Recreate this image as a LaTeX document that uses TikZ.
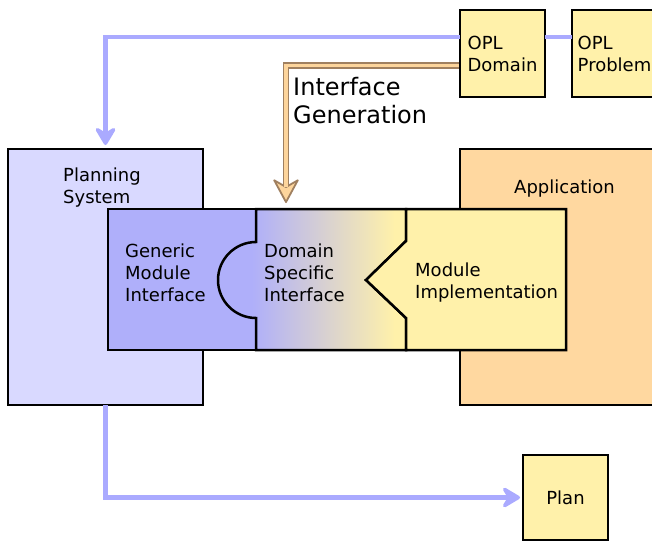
\documentclass[tikz,border=0pt]{standalone}
\usepackage{fontspec}
\setmainfont{DejaVu Sans}
\usetikzlibrary{arrows.meta}
\definecolor{plnlight}{HTML}{D9D9FF}
\definecolor{plnmid}{HTML}{AFAFFA}
\definecolor{modyellow}{HTML}{FFF1AA}
\definecolor{apporange}{HTML}{FFD8A0}
\definecolor{flowblue}{HTML}{AAAAFF}
\definecolor{genbrown}{HTML}{A08060}
\definecolor{genfill}{HTML}{FDD59C}
\pgfdeclarehorizontalshading{dsishade}{100bp}{color(0bp)=(plnmid); color(34bp)=(plnmid);
  color(72bp)=(modyellow); color(100bp)=(modyellow)}

\begin{document}
\begin{tikzpicture}[x=1pt,y=-1pt,
  box/.style={draw=black,line width=2.5pt,inner sep=0pt,outer sep=0pt},
  piece/.style={draw=black,line width=2.5pt},
  txt/.style={inner sep=0pt,align=left,font=\fontsize{18}{22}\selectfont},
  flow/.style={draw=flowblue,line width=4.5pt},
  flowtip/.style={-{Stealth[length=22pt,width=26pt,inset=8pt,round]}}]
  \useasboundingbox (0,0) rectangle (652,542);

  % big boxes
  \node[box,fill=plnlight,anchor=north west,minimum width=195pt,minimum height=256pt] (planning) at (8,149) {};
  \node[box,fill=apporange,anchor=north west,minimum width=240pt,minimum height=256pt] (application) at (460,149) {};
  \node[txt,anchor=base west] (pstext) at (63,203) {Planning\\System};
  \node[txt,anchor=base west] (apptext) at (514,193) {Application};

  % module band
  \filldraw[piece,fill=plnmid] (108,209) rectangle (256,350);
  \shadedraw[piece,shading=dsishade]
    (256,209) -- (406,209) -- (406,241) -- (366,280) -- (406,318) -- (406,350)
    -- (256,350) -- (256,318) arc (90:270:38) -- cycle;
  \filldraw[piece,fill=modyellow]
    (406,209) -- (566,209) -- (566,350) -- (406,350) -- (406,318) -- (366,280) -- (406,241) -- cycle;
  \node[txt,anchor=base west] (gmi) at (125,301) {Generic\\Module\\Interface};
  \node[txt,anchor=base west] (dsi) at (264,301) {Domain\\Specific\\Interface};
  \node[txt,anchor=base west] (mimpl) at (415,298) {Module\\Implementation};

  % inputs and output
  \node[box,fill=modyellow,anchor=north west,minimum width=85pt,minimum height=87pt,txt] (dom) at (460,10) {OPL\\Domain};
  \node[box,fill=modyellow,anchor=north west,minimum width=85pt,minimum height=87pt,txt] (prob) at (572,10) {OPL\\Problem};
  \node[box,fill=modyellow,anchor=north west,minimum width=85pt,minimum height=85pt,txt] (plan) at (523,455) {Plan};

  % flows
  \draw[flow,flowtip,shorten >=4pt] ([yshift=16.5pt]dom.west) -| (planning.north);
  \draw[flow] ([yshift=16.5pt]dom.east) -- ([yshift=16.5pt]prob.west);
  \draw[flow,flowtip,shorten >=3pt] (planning.south) |- (plan.west);

  % interface generation
  \coordinate (gentip) at (286,203);
  \draw[genbrown,line width=6.5pt,shorten <=1.5pt,
    -{Stealth[length=26pt,width=28pt,inset=8pt,line width'=1.8pt,fill=genfill,round]}]
    ([yshift=-12pt]dom.west) -| (gentip);
  \draw[genfill,line width=3.2pt,shorten <=1.5pt,shorten >=16pt] ([yshift=-12pt]dom.west) -| (gentip);
  \node[anchor=base west,inner sep=0pt,align=left,font=\fontsize{24}{28}\selectfont] (igen) at (293,123) {Interface\\Generation};
\end{tikzpicture}
\end{document}
